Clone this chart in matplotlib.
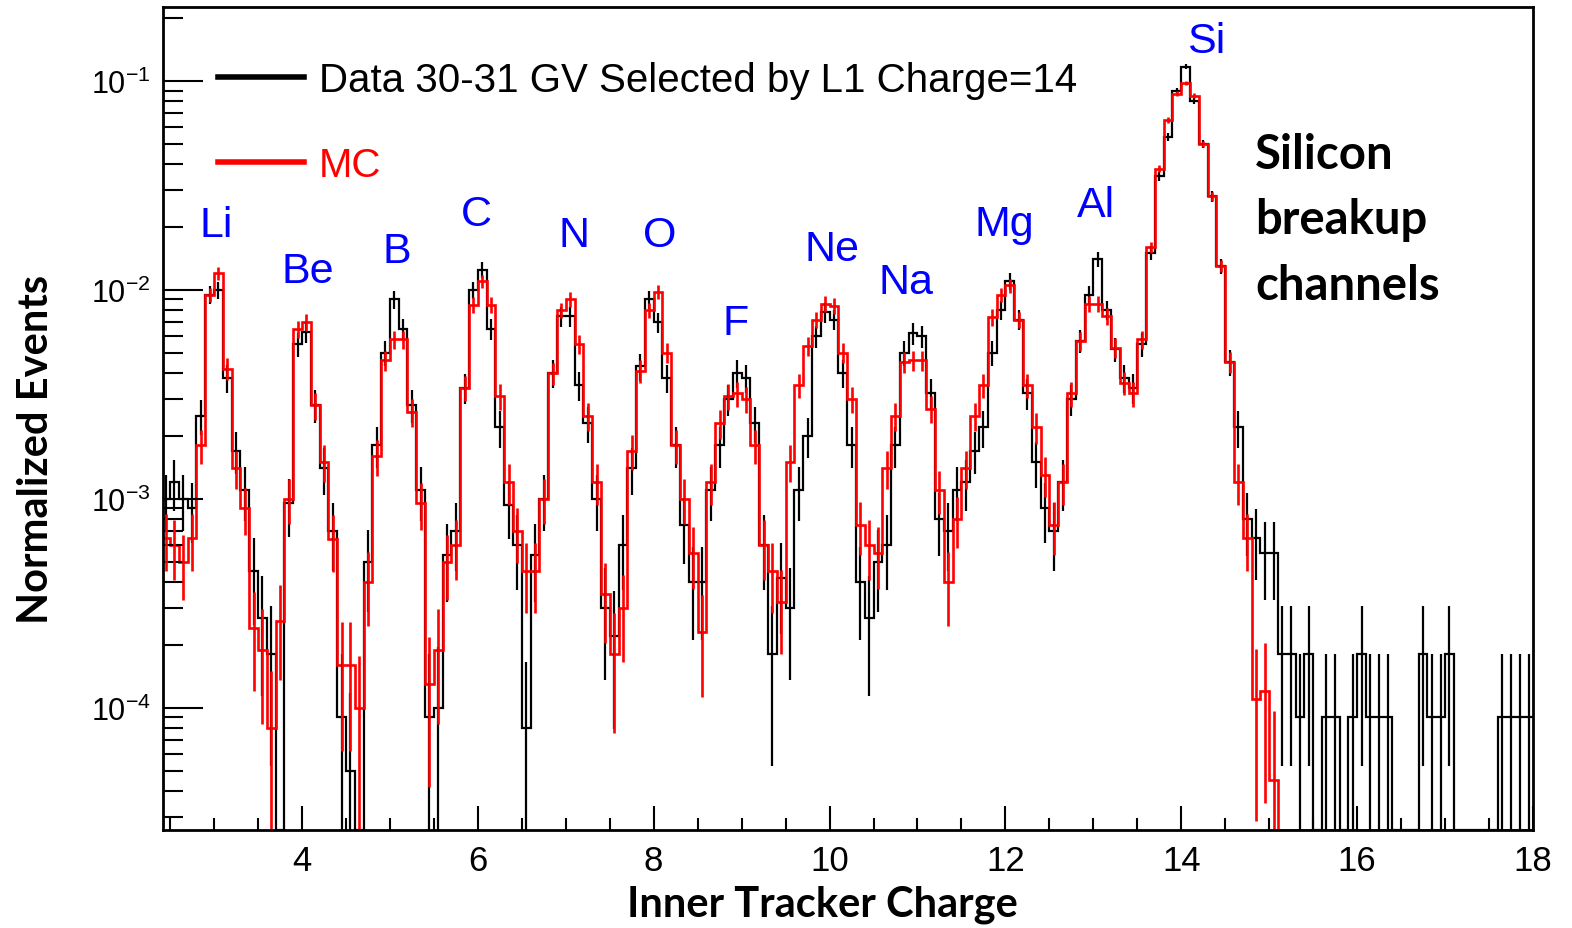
import numpy as np
import matplotlib.pyplot as plt
from matplotlib.ticker import LogLocator, NullFormatter, MultipleLocator

plt.rcParams['font.family'] = ['Liberation Sans', 'DejaVu Sans']

# histogram bins in inner tracker charge, 0.1 wide, from 2.4 to 18.0
edges = np.linspace(2.4, 18.0, 157)

# Data 30-31 GV selected by L1 charge = 14 (normalized events per bin)
data_vals = [
    1.0e-3, 1.2e-3, 1.0e-3, 9.0e-4, 2.5e-3, 9.5e-3,                          # 2.4 - 2.9
    1.0e-2, 3.8e-3, 1.7e-3, 1.1e-3, 4.5e-4, 2.7e-4, 1.8e-4, 0, 9.5e-4, 5.5e-3,  # 3.x
    6.3e-3, 2.8e-3, 1.4e-3, 7e-4, 9e-5, 5e-5, 0, 5e-4, 1.8e-3, 5.0e-3,          # 4.x
    9.0e-3, 6.5e-3, 2.8e-3, 1.1e-3, 9e-5, 1e-4, 5.4e-4, 7e-4, 3.4e-3, 1.0e-2,   # 5.x
    1.25e-2, 6.5e-3, 2.2e-3, 9.3e-4, 6e-4, 8e-5, 5.4e-4, 1.0e-3, 4.0e-3, 7.5e-3,  # 6.x
    7.5e-3, 3.5e-3, 2.3e-3, 1.0e-3, 3e-4, 2.2e-4, 6e-4, 1.4e-3, 4.3e-3, 9.0e-3,   # 7.x
    7.0e-3, 3.8e-3, 1.8e-3, 7.5e-4, 4e-4, 4e-4, 1.1e-3, 1.8e-3, 3.0e-3, 4.0e-3,   # 8.x
    3.8e-3, 2.3e-3, 6e-4, 1.8e-4, 4.2e-4, 3e-4, 1.1e-3, 2.0e-3, 6.0e-3, 7.8e-3,   # 9.x
    7.2e-3, 4.0e-3, 1.8e-3, 4e-4, 2.7e-4, 5e-4, 6e-4, 1.8e-3, 5.0e-3, 6.2e-3,     # 10.x
    6.0e-3, 3.2e-3, 8e-4, 7e-4, 1.1e-3, 1.2e-3, 1.7e-3, 2.2e-3, 5.0e-3, 8.0e-3,   # 11.x
    1.1e-2, 7.2e-3, 3.2e-3, 1.5e-3, 9e-4, 7e-4, 1.2e-3, 3.0e-3, 5.7e-3, 9.5e-3,   # 12.x
    1.4e-2, 8.0e-3, 5.2e-3, 3.8e-3, 3.4e-3, 5.5e-3, 1.5e-2, 3.5e-2, 5.4e-2, 9.0e-2,  # 13.x
    1.17e-1, 8.0e-2, 5.0e-2, 2.8e-2, 1.3e-2, 4.5e-3, 2.2e-3, 8e-4, 6.5e-4, 5.5e-4,   # 14.x
    5.5e-4, 1.8e-4, 1.8e-4, 9e-5, 1.8e-4, 0, 9e-5, 9e-5, 0, 9e-5,               # 15.x
    1.8e-4, 9e-5, 9e-5, 9e-5, 0, 0, 0, 1.8e-4, 9e-5, 9e-5,                      # 16.x
    1.8e-4, 0, 0, 0, 0, 0, 9e-5, 9e-5, 9e-5, 9e-5,                              # 17.x
]

# Monte Carlo
mc_vals = [
    6.5e-4, 6.0e-4, 5.0e-4, 6.5e-4, 1.8e-3, 9.5e-3,
    1.2e-2, 4.2e-3, 1.4e-3, 9.0e-4, 2.4e-4, 1.9e-4, 8e-5, 2.6e-4, 1.0e-3, 6.5e-3,
    7.0e-3, 2.8e-3, 1.5e-3, 6.4e-4, 1.6e-4, 1.6e-4, 1e-4, 4e-4, 1.6e-3, 4.6e-3,
    5.8e-3, 5.8e-3, 2.6e-3, 9.5e-4, 1.3e-4, 1.9e-4, 5e-4, 6e-4, 3.4e-3, 8.5e-3,
    1.1e-2, 8.5e-3, 3.1e-3, 1.2e-3, 7e-4, 4.5e-4, 4.5e-4, 1.0e-3, 4.0e-3, 8.0e-3,
    9.0e-3, 5.5e-3, 2.5e-3, 1.2e-3, 3.5e-4, 1.8e-4, 3e-4, 1.7e-3, 4.1e-3, 8.0e-3,
    9.8e-3, 5.0e-3, 1.8e-3, 1.0e-3, 5.5e-4, 2.3e-4, 1.2e-3, 2.3e-3, 3.1e-3, 3.2e-3,
    3.0e-3, 1.8e-3, 6e-4, 4.5e-4, 3.2e-4, 1.5e-3, 3.5e-3, 5.4e-3, 7.2e-3, 8.6e-3,
    8.4e-3, 5.0e-3, 3.0e-3, 7.5e-4, 6e-4, 5.5e-4, 1.4e-3, 2.5e-3, 4.5e-3, 4.6e-3,
    4.6e-3, 2.7e-3, 1.1e-3, 4e-4, 8e-4, 1.4e-3, 2.5e-3, 3.5e-3, 7.4e-3, 9.5e-3,
    1.05e-2, 7.2e-3, 3.5e-3, 2.2e-3, 1.3e-3, 7.5e-4, 1.2e-3, 3.2e-3, 5.7e-3, 8.6e-3,
    8.6e-3, 7.5e-3, 5.3e-3, 3.6e-3, 3.2e-3, 5.8e-3, 1.6e-2, 3.8e-2, 6.5e-2, 8.7e-2,
    9.8e-2, 8.5e-2, 5.0e-2, 2.8e-2, 1.3e-2, 4.5e-3, 1.2e-3, 6.5e-4, 1.1e-4, 1.2e-4,
    4.5e-5, 0, 0, 0, 0, 0, 0, 0, 0, 0,
    0, 0, 0, 0, 0, 0, 0, 0, 0, 0,
    0, 0, 0, 0, 0, 0, 0, 0, 0, 0,
]

# fragment labels
elements = ['Li', 'Be', 'B', 'C', 'N', 'O', 'F', 'Ne', 'Na', 'Mg', 'Al', 'Si']
elem_q = [3.03, 4.07, 5.08, 5.98, 7.09, 8.07, 8.93, 10.03, 10.87, 11.99, 13.03, 14.28]
elem_y = [2.05e-2, 1.23e-2, 1.54e-2, 2.31e-2, 1.83e-2, 1.83e-2, 6.95e-3,
          1.57e-2, 1.09e-2, 2.07e-2, 2.55e-2, 0.155]

legend_labels = ['Data 30-31 GV Selected by L1 Charge=14', 'MC']

# weight of a single event, used for the error bars
w_data = 9e-5
w_mc = 6e-5

ymin, ymax = 2.6e-5, 0.226

fig = plt.figure(figsize=(15.72, 9.29), dpi=100)
ax = fig.add_axes([0.1037, 0.1055, 0.8715, 0.8859])
ax.set_yscale('log')

centers = 0.5 * (edges[1:] + edges[:-1])


def draw_hist(vals, color, lw, w):
    v = np.array(vals, dtype=float)
    shown = np.where(v > 0, v, ymin)
    ax.stairs(shown, edges, color=color, lw=lw, baseline=None)
    err = np.sqrt(v * w)
    m = v > 0
    lo = np.clip(v - err, ymin, None)
    ax.vlines(centers[m], lo[m], (v + err)[m], color=color, lw=lw)


draw_hist(data_vals, 'black', 1.6, w_data)
draw_hist(mc_vals, 'red', 1.9, w_mc)

ax.set_xlim(2.42, 18.0)
ax.set_ylim(ymin, ymax)

ax.xaxis.set_major_locator(MultipleLocator(2))
ax.xaxis.set_minor_locator(MultipleLocator(0.5))
ax.yaxis.set_major_locator(LogLocator(base=10, numticks=10))
ax.yaxis.set_minor_locator(LogLocator(base=10, subs=np.arange(2, 10), numticks=50))
ax.yaxis.set_minor_formatter(NullFormatter())

ax.tick_params(which='both', direction='in', top=False, right=False, width=1.5)
ax.tick_params(axis='y', which='major', length=29, labelsize=22, pad=9)
ax.tick_params(axis='y', which='minor', length=14.5)
ax.tick_params(axis='x', which='major', length=17, labelsize=25, pad=10)
ax.tick_params(axis='x', which='minor', length=9)
for s in ax.spines.values():
    s.set_linewidth(2)

# legend
h1, = ax.plot([], [], color='black', lw=4, label=legend_labels[0])
h2, = ax.plot([], [], color='red', lw=4, label=legend_labels[1])
leg = ax.legend(handles=[h1, h2], loc='upper left', bbox_to_anchor=(0.040, 0.934),
                frameon=False, fontsize=29, handlelength=2.15, handletextpad=0.35,
                labelspacing=1.15, borderpad=0, borderaxespad=0)
leg.get_texts()[1].set_color('red')

for name, q, y in zip(elements, elem_q, elem_y):
    ax.text(q, y, name, color='blue', fontsize=31, ha='center', va='center')

ax.text(0.797, 0.742, 'Silicon\nbreakup\nchannels', transform=ax.transAxes,
        fontsize=34, fontweight='bold', family=['Lato', 'DejaVu Sans'],
        ha='left', va='center', linespacing=1.6)

fig.text(0.523, 0.026, 'Inner Tracker Charge', fontsize=30, fontweight='bold',
         family=['Lato', 'DejaVu Sans'], ha='center', va='center')
fig.text(0.023, 0.516, 'Normalized Events', rotation=90, fontsize=30, fontweight='bold',
         family=['Lato', 'DejaVu Sans'], ha='center', va='center')

fig.savefig('out.png', dpi=100)
